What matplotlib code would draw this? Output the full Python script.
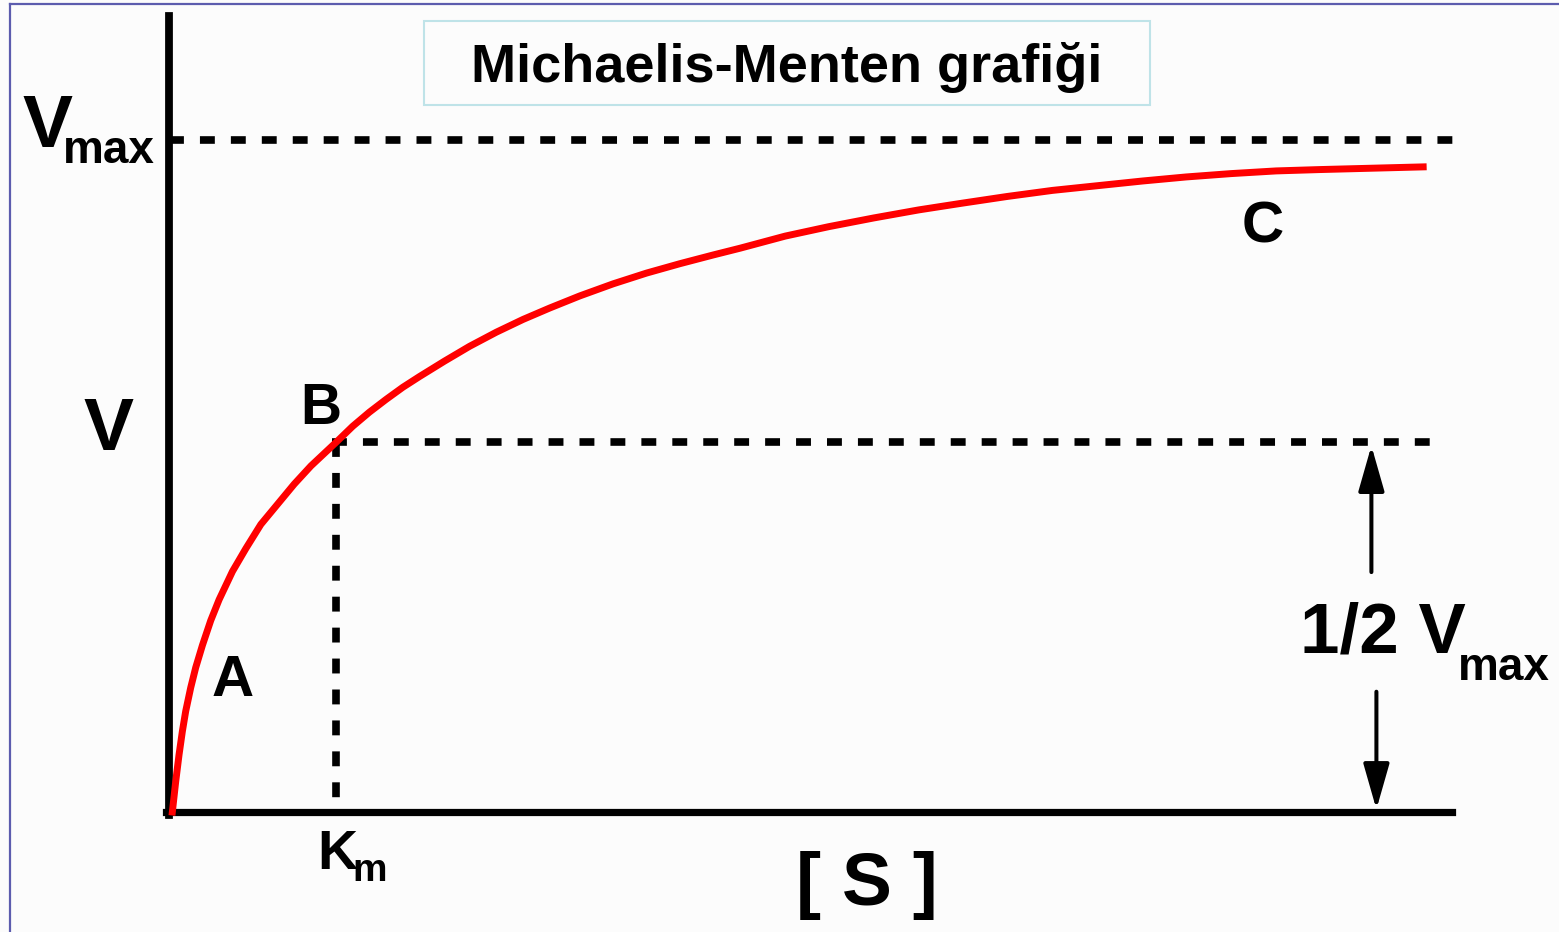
import matplotlib.pyplot as plt
from matplotlib.patches import Rectangle
from matplotlib.lines import Line2D

plt.rcParams['font.family'] = ['Liberation Sans', 'DejaVu Sans']
plt.rcParams['font.weight'] = 'bold'

# values: [S] in units of Km, V in % of Vmax
s_values = [0.02, 0.04, 0.06, 0.08, 0.10, 0.13, 0.16, 0.20, 0.25, 0.30,
            0.38, 0.46, 0.55, 0.65, 0.75, 0.85, 1.00, 1.10, 1.20, 1.30,
            1.40, 1.50, 1.65, 1.80, 1.96, 2.12, 2.28, 2.46, 2.66, 2.86,
            3.06, 3.26, 3.42, 3.69, 3.95, 4.22, 4.49, 4.75, 5.02, 5.29,
            5.56, 5.83, 6.09, 6.36, 6.63, 6.89, 7.20, 7.51]
v_values = [0.0, 4.5, 8.5, 12.0, 15.0, 18.5, 21.5, 24.8, 28.5, 31.6,
            35.8, 39.2, 42.8, 45.8, 48.8, 51.5, 55.0, 57.4, 59.5, 61.4,
            63.2, 64.8, 67.1, 69.3, 71.4, 73.3, 75.0, 76.8, 78.6, 80.2,
            81.6, 82.9, 83.9, 85.7, 87.1, 88.4, 89.6, 90.6, 91.6, 92.5,
            93.2, 93.9, 94.5, 95.0, 95.4, 95.6, 95.8, 96.0]
km = 1.0
vmax = 100
half_level = 55  # where the "1/2 Vmax" line is drawn in the sketch
s_end = 7.72

bg = '#fcfcfc'
W, H = 1559, 932
fig = plt.figure(figsize=(W / 100, H / 100), dpi=100, facecolor=bg)
ax = fig.add_axes([0, 0, 1, 1], facecolor=bg)

# map data origin to the corner of the drawn axes
ox, oy = 169, 812
px_s, px_v = 167, 6.72
ax.set_xlim(-ox / px_s, (W - ox) / px_s)
ax.set_ylim(-(H - oy) / px_v, oy / px_v)

for side in ['top', 'right']:
    ax.spines[side].set_visible(False)
ax.spines['left'].set_position(('data', 0))
ax.spines['bottom'].set_position(('data', 0))
ax.spines['left'].set_bounds(-0.4, 118.4)
ax.spines['bottom'].set_bounds(-0.02, 7.68)
ax.spines['left'].set_linewidth(5.6)
ax.spines['bottom'].set_linewidth(5.2)
ax.set_xticks([])
ax.set_yticks([])

dash = (0, (1.95, 2.1))
ax.plot([0, s_end], [vmax, vmax], color='black', lw=5.5, linestyle=dash)
ax.plot([km - 0.025, 7.61], [half_level, half_level], color='black', lw=5.5, linestyle=dash)
ax.plot([km, km], [half_level, 0], color='black', lw=5.5, linestyle=dash)

ax.plot(s_values, v_values, color='#ff0000', lw=5, zorder=3)

# 1/2 Vmax arrows
arrow = dict(arrowstyle='-|>,head_length=1.4,head_width=0.4', lw=2.9,
             color='black', mutation_scale=20, shrinkA=0, shrinkB=0)
ax.annotate('', xy=(7.20, half_level - 0.5), xytext=(7.20, 35.7), arrowprops=arrow)
ax.annotate('', xy=(7.23, 0.4), xytext=(7.23, 17.9), arrowprops=arrow)

# labels
ax.text(-0.88, 99.0, 'V', fontsize=54, ha='left', va='baseline')
ax.text(-0.635, 96.6, 'max', fontsize=33, ha='left', va='baseline')
ax.text(-0.51, 53.9, 'V', fontsize=54, ha='left', va='baseline')
ax.text(6.77, 23.7, '1/2 V', fontsize=51, ha='left', va='baseline')
ax.text(7.72, 19.6, 'max', fontsize=33, ha='left', va='baseline')
ax.text(0.886, -8.5, 'K', fontsize=40, ha='left', va='baseline')
ax.text(1.10, -10.3, 'm', fontsize=28, ha='left', va='baseline')
ax.text(4.18, -13.8, '[ S ]', fontsize=54, ha='center', va='baseline')
ax.text(0.257, 17.3, 'A', fontsize=42, ha='left', va='baseline')
ax.text(0.785, 57.7, 'B', fontsize=41, ha='left', va='baseline')
ax.text(6.425, 84.8, 'C', fontsize=42, ha='left', va='baseline')

# title box
fig.add_artist(Rectangle((424 / W, 1 - 105 / H), 726 / W, 84 / H,
                         transform=fig.transFigure, facecolor=bg,
                         edgecolor='#bfe3e8', lw=1.5))
fig.text(787 / W, 1 - 82 / H, 'Michaelis-Menten grafiği', fontsize=39,
         ha='center', va='baseline')

# frame of the slide
fig.add_artist(Line2D([9.5 / W, 9.5 / W], [0, 1 - 4 / H], color='#5c5cae', lw=1.6))
fig.add_artist(Line2D([9.5 / W, 1], [1 - 4 / H, 1 - 4 / H], color='#5c5cae', lw=1.6))

fig.savefig('out.png', dpi=100, facecolor=bg)
